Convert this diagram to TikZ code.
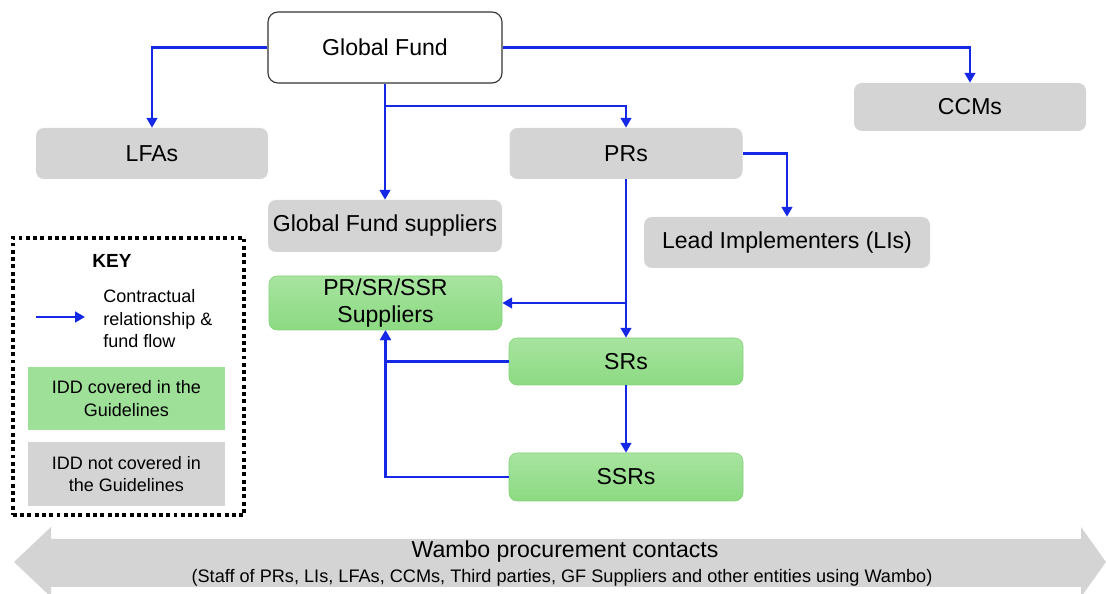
\documentclass[tikz,border=0pt]{standalone}
\usepackage{fontspec}
\setmainfont{Liberation Sans}
\usetikzlibrary{positioning,arrows.meta}
\tikzset{font=\fontsize{16.4}{19.5}\selectfont}
\definecolor{flowblue}{RGB}{20,40,230}
\definecolor{boxgray}{RGB}{212,212,212}
\definecolor{greentop}{RGB}{168,228,160}
\definecolor{greenbot}{RGB}{140,218,130}
\definecolor{greenline}{RGB}{130,210,120}
\definecolor{keygreen}{RGB}{158,224,152}

\begin{document}
\begin{tikzpicture}[>={Triangle[length=7pt,width=7.5pt]},
    every node/.style={inner sep=0pt},
    graybox/.style={fill=boxgray,rounded corners=0.2cm,minimum width={5.8cm},minimum height={1.275cm}},
    greenbox/.style={top color=greentop,bottom color=greenbot,draw=greenline,rounded corners=0.2cm,minimum width={5.825cm}},
    keytext/.style={font=\fontsize{12.8}{16}\selectfont,align=center},
    flow/.style={->,color=flowblue,line width=1.8pt},
    elbow/.style={to path={-| (\tikztotarget)}}]
      \clip (0,0) rectangle (27.65,14.85);

      \node[draw=black!80,fill=white,rounded corners=0.25cm,line width=0.8pt,minimum width={5.85cm},minimum height={1.775cm}] (GF) at (9.625,13.6625) {Global Fund};
      \node[graybox] (LFA) at (3.8,11.0125) {LFAs};
      \node[graybox,minimum width={5.825cm}] (PR) at (15.65,11.0125) {PRs};
      \node[graybox,minimum height={1.2cm}] (CCM) at (24.25,12.175) {CCMs};
      \node[graybox,minimum width={5.85cm},minimum height={1.3cm}] (GFS) at (9.625,9.2) {Global Fund suppliers};
      \node[graybox,minimum width={7.15cm}] (LI) at (19.675,8.7875) {Lead Implementers (LIs)};

      \node[greenbox,minimum height={1.35cm},align=center] (PSS) at (9.6375,7.275) {PR/SR/SSR\\Suppliers};
      \node[greenbox,minimum width={5.85cm},minimum height={1.175cm}] (SR) at (15.65,5.8125) {SRs};
      \node[greenbox,minimum width={5.85cm},minimum height={1.2cm}] (SSR) at (15.65,2.925) {SSRs};

      % key
      \node[draw,line width=2.8pt,dash pattern=on 2.8pt off 2.4pt,minimum width={5.79cm},minimum height={6.94cm}] (KEYBOX) at (3.2125,5.4375) {};
      \node[font=\fontsize{13.5}{15}\selectfont\bfseries] (KEYT) at (2.8,8.325) {KEY};
      \coordinate (K1) at (0.9,6.925);
      \coordinate (K2) at (2.125,6.925);
      \node[keytext,anchor=west,align=left] (KEYFLOW) at (2.575,6.875) {Contractual\\relationship \&\\fund flow};
      \node[keytext,fill=keygreen,minimum width={4.925cm},minimum height={1.575cm}] (KEYG) at (3.1625,4.8875) {IDD covered in the\\Guidelines};
      \node[keytext,fill=boxgray,minimum width={4.925cm},minimum height={1.6cm}] (KEYN) at (3.1625,3.0) {IDD not covered in\\the Guidelines};

      % Wambo band
      \fill[boxgray] (0.35,0.8) -- (1.275,1.675) -- (1.275,1.375) -- (27.025,1.375) -- (27.025,1.675)
        -- (27.65,0.8) -- (27.025,-0.075) -- (27.025,0.175) -- (1.275,0.175) -- (1.275,-0.075) -- cycle;
      \node (WAMBO) at (14.125,1.05) {Wambo procurement contacts};
      \node[font=\fontsize{12.9}{14}\selectfont] (WSTAFF) at (14.05,0.4) {(Staff of PRs, LIs, LFAs, CCMs, Third parties, GF Suppliers and other entities using Wambo)};

      \coordinate (J1) at (9.625,12.2);
      \coordinate (J2) at (15.65,7.275);

      \path [flow](GF.west) edge[elbow] (LFA.north);
      \path [flow](GF.east) edge[elbow] (CCM.north);
      \path [flow](GF.south) edge (GFS.north);
      \path [flow](J1) edge[elbow] (PR.north);
      \path [flow](PR.east) edge[elbow] (LI.north);
      \path [flow](PR.south) edge (SR.north);
      \path [flow](J2) edge (PSS.east);
      \path [flow](SR.south) edge (SSR.north);
      \path [flow](SR.west) edge[elbow] (PSS.south);
      \path [flow](SSR.west) edge[elbow] (PSS.south);
      \path [flow](K1) edge (K2);
  \end{tikzpicture}
\end{document}
